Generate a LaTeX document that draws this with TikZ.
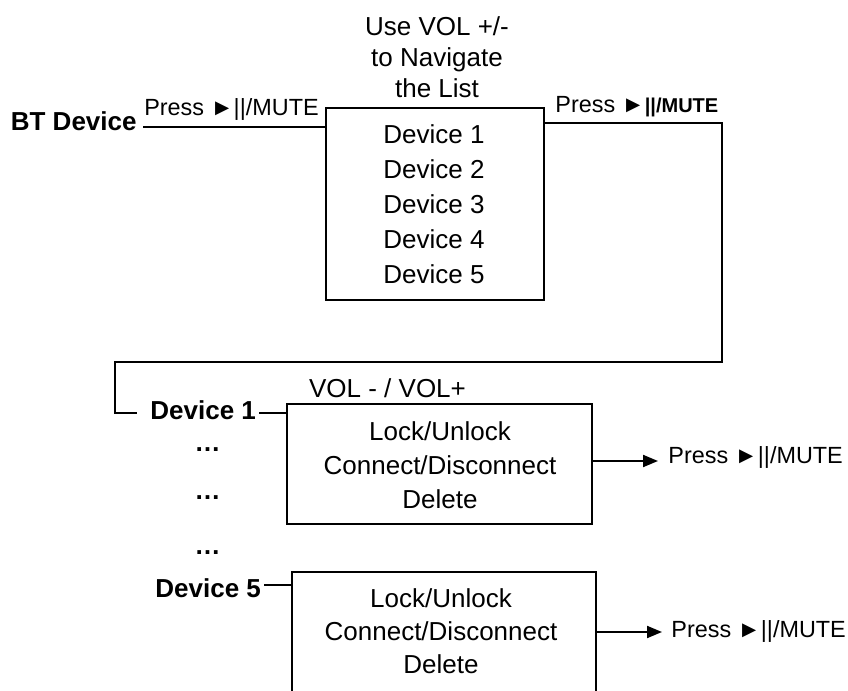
\documentclass[tikz,border=0pt]{standalone}
\usepackage{fontspec}
\setmainfont{Liberation Sans}
\usetikzlibrary{arrows.meta}
\begin{document}
\begin{tikzpicture}[x=0.5pt,y=-0.5pt,
  txt/.style={inner sep=0pt, anchor=base, font=\fontsize{13}{16}\selectfont},
  bld/.style={inner sep=0pt, font=\fontsize{13}{16}\selectfont\bfseries},
  sml/.style={inner sep=0pt, anchor=base, font=\fontsize{11.7}{14}\selectfont},
  frame/.style={draw, line width=1pt, inner sep=0pt},
  wire/.style={line width=1pt},
  arr/.style={wire, -{Triangle[length=7.5pt,width=6pt]}}]
\useasboundingbox (0,0) rectangle (848,691);

% heading above the list
\node[txt] (nav1) at (437,35) {Use VOL +/-};
\node[txt] (nav2) at (437,66) {to Navigate};
\node[txt] (nav3) at (437,97) {the List};

% list box
\node[frame, minimum width=109pt, minimum height=96pt] (list) at (435,204) {};
\node[txt] (l1) at (434,143) {Device 1};
\node[txt] (l2) at (434,178) {Device 2};
\node[txt] (l3) at (434,213) {Device 3};
\node[txt] (l4) at (434,248) {Device 4};
\node[txt] (l5) at (434,283) {Device 5};

% BT device entry
\node[bld, anchor=base east] (bt) at (137,130) {BT Device};
\node[sml] (p1) at (231.5,115) {Press ►||/MUTE};
\coordinate (btw) at (143,127);
\draw[wire] (btw) -- (list.west |- btw);

% exit of list
\node[sml, anchor=base west] (p2) at (555,112) {Press ►{\fontsize{10}{12}\selectfont\bfseries ||/MUTE}};
\coordinate (e1) at (544,123);
\coordinate (e2) at (722,362);
\coordinate (e3) at (115,413);
\coordinate (e4) at (137,413);
\draw[wire] (e1) -| (e2) -| (e3) -- (e4);

% device 1 menu
\node[bld, anchor=base west] (d1) at (150,419) {Device 1};
\node[txt] (vol) at (387.5,397) {VOL - / VOL+};
\node[frame, minimum width=152.5pt, minimum height=60pt] (box1) at (439.5,464) {};
\node[txt] (b1a) at (440,440) {Lock/Unlock};
\node[txt] (b1b) at (440,474) {Connect/Disconnect};
\node[txt] (b1c) at (440,508) {Delete};
\coordinate (d1w) at (259,413);
\draw[wire] (d1w) -- (box1.west |- d1w);
\node[sml, anchor=base west] (p3) at (668,463) {Press ►||/MUTE};
\coordinate (a1) at (592,461);
\coordinate (a1t) at (658,461);
\draw[arr] (a1) -- (a1t);

% dots
\node[bld, anchor=base] (dt1) at (207.5,451) {…};
\node[bld, anchor=base] (dt2) at (207.5,499) {…};
\node[bld, anchor=base] (dt3) at (207.5,554) {…};

% device 5 menu
\node[bld, anchor=base west] (d5) at (155,597) {Device 5};
\node[minimum width=152pt, minimum height=59.5pt, inner sep=0pt] (box5) at (444,631.5) {};
\draw[wire] (box5.south west) -- (box5.north west) -- (box5.north east) -- (box5.south east);
\node[txt] (b5a) at (441,607) {Lock/Unlock};
\node[txt] (b5b) at (441,640) {Connect/Disconnect};
\node[txt] (b5c) at (441,673) {Delete};
\coordinate (d5w) at (264,585);
\draw[wire] (d5w) -- (box5.west |- d5w);
\node[sml, anchor=base west] (p4) at (671,637) {Press ►||/MUTE};
\coordinate (a5) at (596,632);
\coordinate (a5t) at (662,632);
\draw[arr] (a5) -- (a5t);
\end{tikzpicture}
\end{document}
